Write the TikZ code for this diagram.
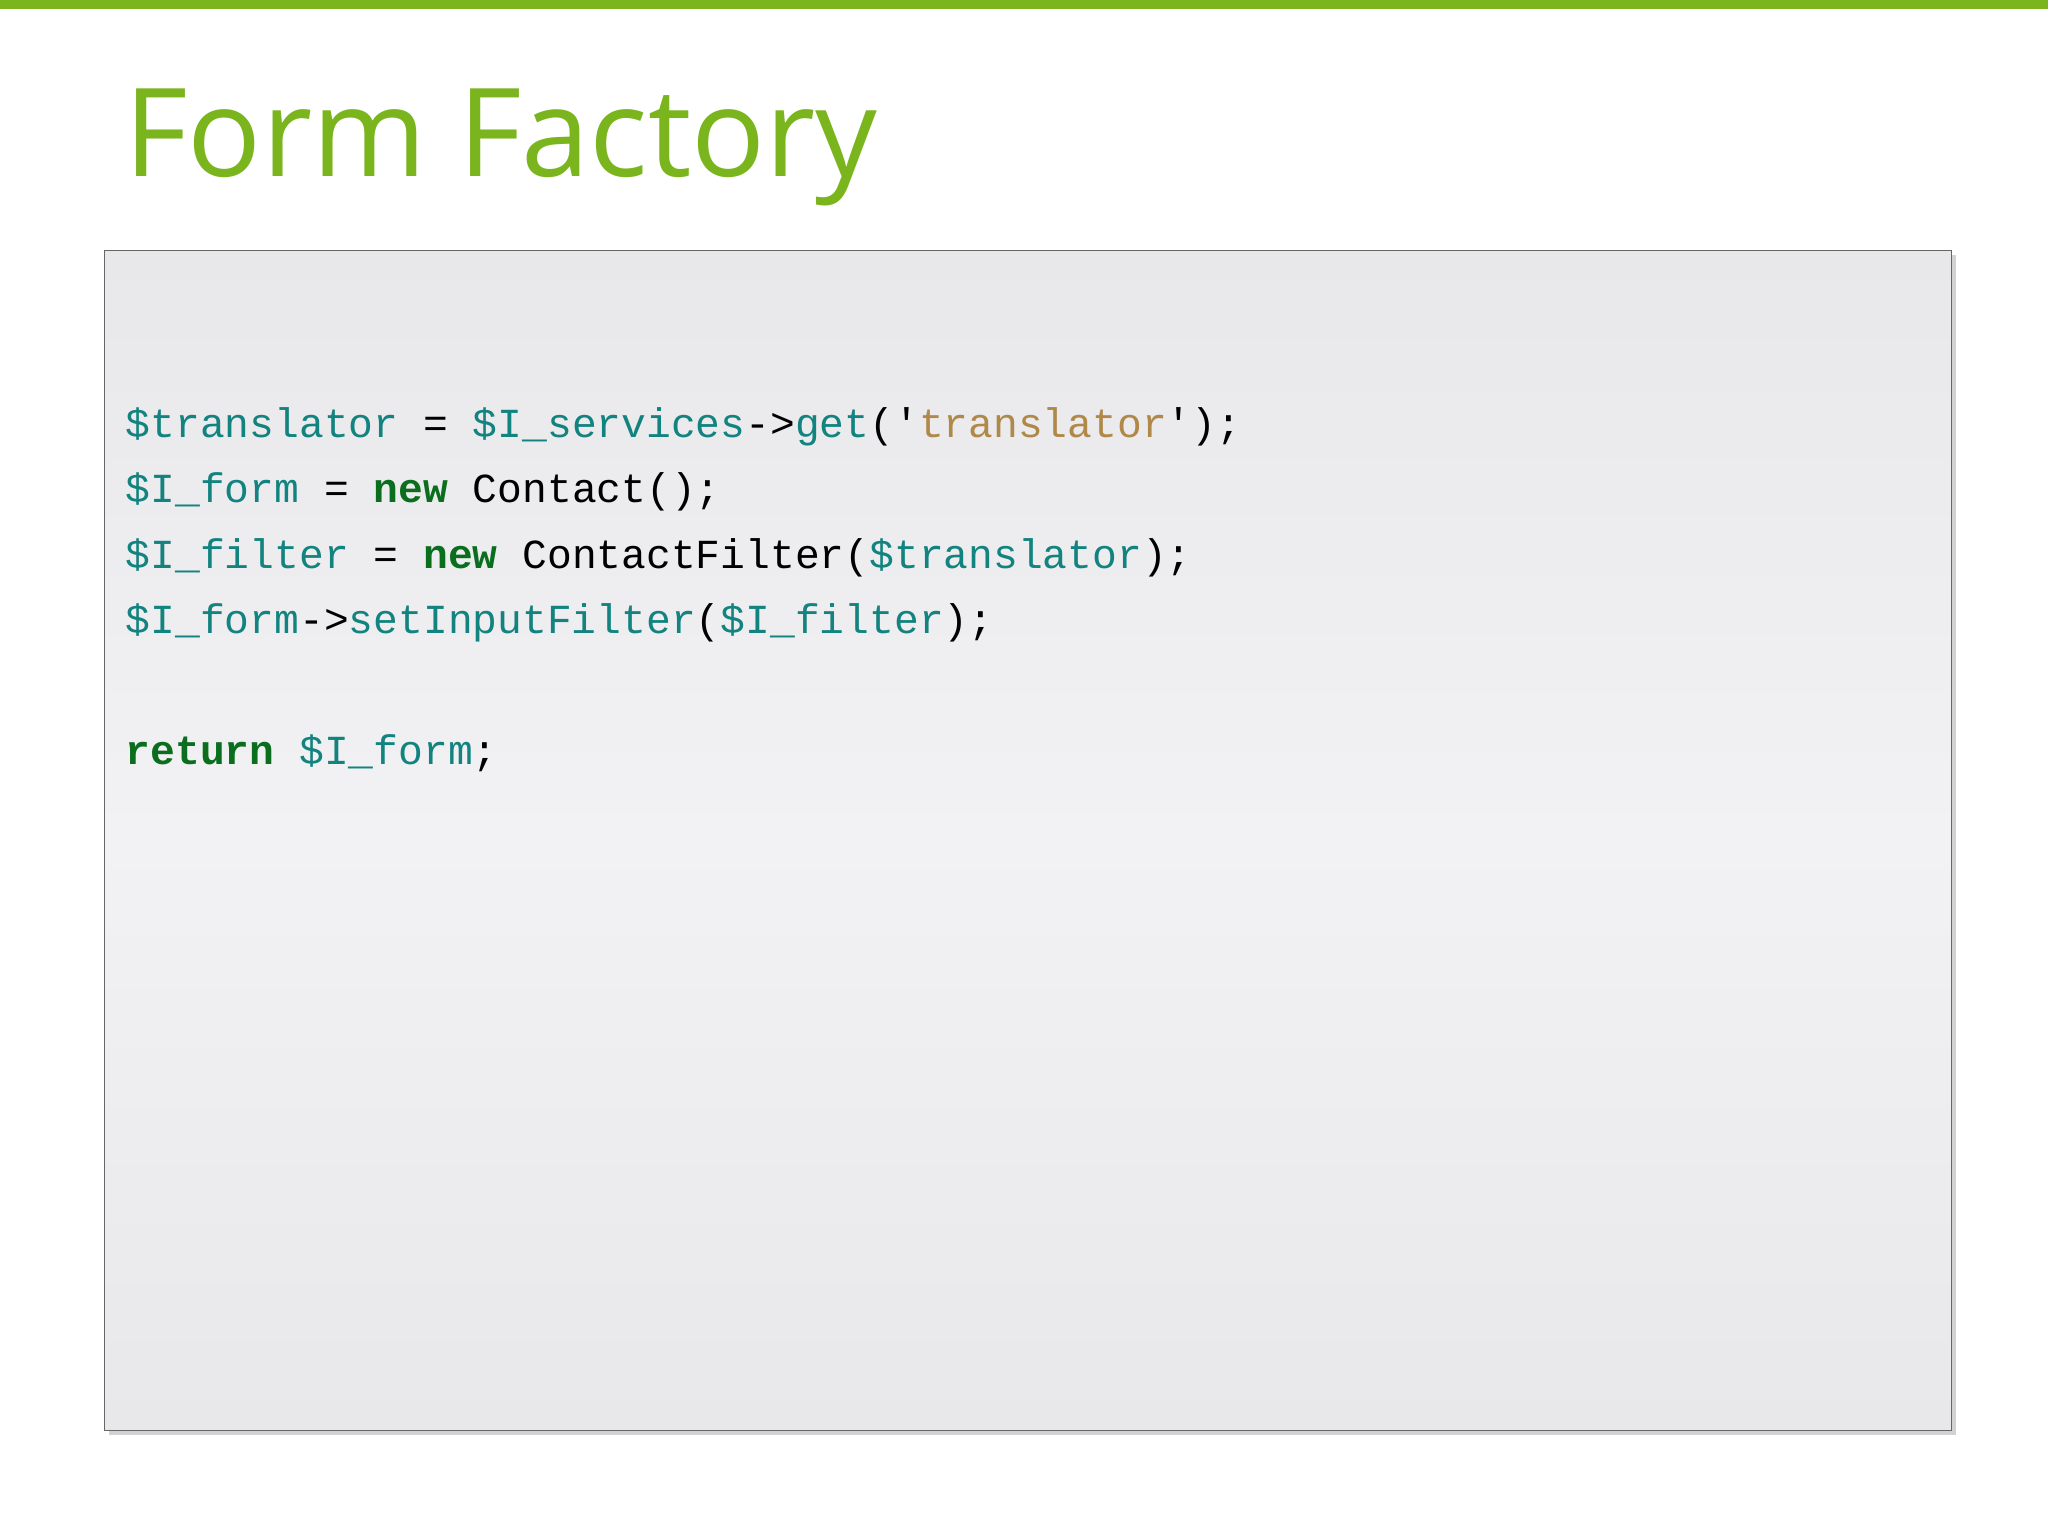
\documentclass[tikz,border=0pt]{standalone}
\usepackage{fontspec}
\setmainfont{Open Sans}
\newfontfamily\codefont{Liberation Mono}
\usetikzlibrary{shadows}
\definecolor{fgreen}{HTML}{7AB51D}
\definecolor{vteal}{HTML}{12837F}
\definecolor{vstr}{HTML}{B08848}
\definecolor{kw}{HTML}{0A6E1E}
\definecolor{boxtop}{HTML}{E8E7EA}
\definecolor{boxmid}{HTML}{F2F2F4}
\tikzset{codeline/.style={anchor=base west,inner sep=0pt,font=\codefont\fontsize{18}{20}\selectfont}}
\newcommand{\cvar}[1]{\textcolor{vteal}{#1}}
\newcommand{\cstr}[1]{\textcolor{vstr}{#1}}
\newcommand{\ckw}[1]{\textcolor{kw}{\bfseries #1}}
\begin{document}
\begin{tikzpicture}[x=0.02cm,y=-0.02cm]
\useasboundingbox (0,0) rectangle (1568,1176);
\fill[white] (0,0) rectangle (1568,1176);
\fill[fgreen] (0,0) rectangle (1568,7);
\node[anchor=base west,inner sep=0pt,text=fgreen,font=\fontsize{53.5}{58}\selectfont] (title) at (95,135) {Form Factory};
\shade[top color=boxtop,bottom color=boxtop,middle color=boxmid,drop shadow={opacity=0.35,shadow xshift=2pt,shadow yshift=-2pt}] (80,192) rectangle (1494,1095);
\draw[gray!80!black,line width=0.6pt] (80,192) rectangle (1494,1095);
\node[codeline] (l1) at (96,335) {\cvar{\$translator} = \cvar{\$I\_services}->\cvar{get}('\cstr{translator}');};
\node[codeline] (l2) at (96,385) {\cvar{\$I\_form} = \ckw{new} Contact();};
\node[codeline] (l3) at (96,435) {\cvar{\$I\_filter} = \ckw{new} ContactFilter(\cvar{\$translator});};
\node[codeline] (l4) at (96,485) {\cvar{\$I\_form}->\cvar{setInputFilter}(\cvar{\$I\_filter});};
\node[codeline] (l5) at (96,585) {\ckw{return} \cvar{\$I\_form};};
\end{tikzpicture}
\end{document}
